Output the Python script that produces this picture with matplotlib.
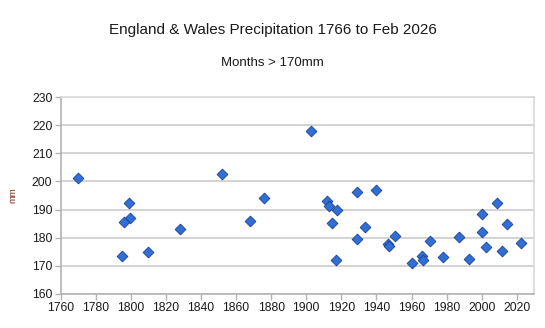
import matplotlib
matplotlib.use("Agg")
import matplotlib.pyplot as plt

plt.rcParams['font.family'] = ['Liberation Sans', 'DejaVu Sans']

years = [1770.0, 1799.0, 1799.3, 1796.3, 1794.8, 1809.7, 1828.1, 1852.1, 1875.9, 1868.0,
         1902.7, 1911.8, 1913.1, 1917.5, 1914.7, 1917.1, 1929.0, 1940.0, 1929.0, 1933.7,
         1946.4, 1947.2, 1950.8, 1960.0, 1965.7, 1966.6, 1970.4, 1978.0, 1986.9, 1993.0,
         1999.9, 1999.9, 2002.2, 2008.9, 2014.2, 2011.7, 2022.2]
values = [201.1, 192.2, 187.1, 185.7, 173.4, 174.8, 183.0, 202.6, 194.0, 185.9,
          218.1, 193.2, 191.3, 189.8, 185.1, 172.0, 196.1, 197.0, 179.4, 183.9,
          177.8, 177.0, 180.7, 171.1, 173.6, 172.0, 178.9, 173.2, 180.3, 172.3,
          188.3, 182.1, 176.8, 192.2, 184.7, 175.3, 178.0]

xticks = list(range(1760, 2021, 20))
yticks = list(range(160, 231, 10))

fig = plt.figure(figsize=(5.45, 3.28), dpi=100)
ax = fig.add_axes([0.1114, 0.1046, 0.869, 0.5988])

ax.scatter(years, values, marker='D', s=30, color='#2f6fd6',
           edgecolors='#1b3f8f', linewidths=0.6, zorder=3)

ax.set_xlim(1760, 2030)
ax.set_ylim(160, 230)
ax.set_xticks(xticks)
ax.set_yticks(yticks)
ax.tick_params(axis='both', labelsize=8.7, colors='#b3b3b3', labelcolor='#1a1a1a',
               length=4, width=1, direction='out', pad=2)
ax.grid(axis='y', color='#cccccc', linewidth=1.2)
ax.set_axisbelow(True)
for side in ['top', 'right']:
    ax.spines[side].set_color('#d9d9d9')
    ax.spines[side].set_linewidth(1.2)
for side in ['left', 'bottom']:
    ax.spines[side].set_color('#b3b3b3')
    ax.spines[side].set_linewidth(1.2)

fig.text(13/545, 1 - 195/328, 'mm', rotation=90, fontsize=6.8, color='#7a2a1a',
         ha='center', va='center')
fig.text(0.5, 1 - 30/328, 'England & Wales Precipitation 1766 to Feb 2026',
         fontsize=11, ha='center', va='center', color='#1a1a1a')
fig.text(0.5, 1 - 63/328, 'Months > 170mm', fontsize=9.5, ha='center', va='center',
         color='#1a1a1a')

fig.savefig('out.png', dpi=100)
